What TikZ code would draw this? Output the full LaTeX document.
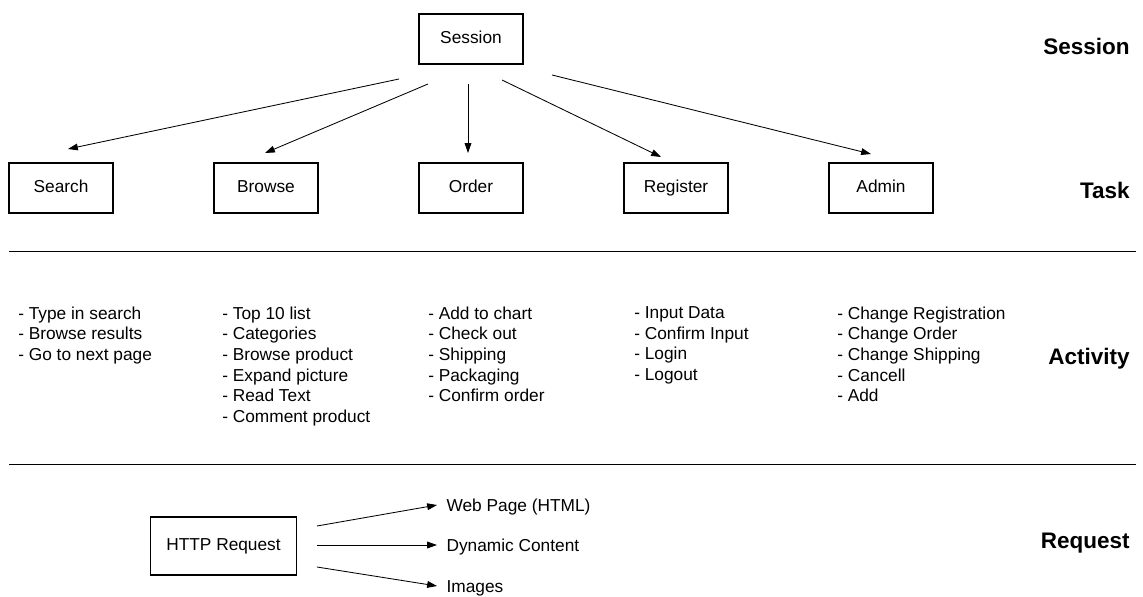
\documentclass[tikz,border=0pt]{standalone}
\usepackage{fontspec}
\setmainfont{Liberation Sans}
\usepackage{tikz}
\usetikzlibrary{arrows.meta}

\begin{document}
\begin{tikzpicture}[x=0.025cm,y=-0.025cm,
    every node/.style={font=\fontsize{12.3}{14.6}\selectfont},
    box/.style={draw,line width=1.1pt,minimum width=2.6cm,minimum height=1.25cm,
        inner sep=0pt,text height=8.8pt,text depth=1.8pt},
    level/.style={anchor=base east,inner sep=0pt,font=\fontsize{16}{19}\selectfont\bfseries},
    steps/.style={anchor=north west,align=left,inner sep=0pt},
    result/.style={anchor=west,inner xsep=6.6pt,inner ysep=0pt,text height=8.8pt,text depth=0pt},
    arr/.style={-{Triangle[length=7pt,width=4.8pt]},line width=0.6pt}]

    \useasboundingbox (0,0) rectangle (1143,597);

    % levels
    \node[level] (lsession) at (1130,54.3) {Session};
    \node[level] (ltask) at (1130,198.3) {Task};
    \node[level] (lactivity) at (1130,364.3) {Activity};
    \node[level] (lrequest) at (1130,548.3) {Request};

    \draw[line width=0.6pt] (9,251) -- (1136,251);
    \draw[line width=0.6pt] (9,464) -- (1136,464);

    % session and tasks
    \node[box] (session) at (471,39) {Session};
    \node[box] (search) at (61,188) {Search};
    \node[box] (browse) at (266,188) {Browse};
    \node[box] (order) at (471,188) {Order};
    \node[box] (register) at (676,188) {Register};
    \node[box] (admin) at (881,188) {Admin};

    \coordinate (s1) at (399,79);
    \coordinate (s2) at (428,84);
    \coordinate (s3) at (468,84);
    \coordinate (s4) at (502,80);
    \coordinate (s5) at (552,75);
    \coordinate (t1) at (68,149);
    \coordinate (t2) at (265,153);
    \coordinate (t3) at (468,153);
    \coordinate (t4) at (661,157);
    \coordinate (t5) at (871,154);
    \foreach \i in {1,...,5}
        \draw[arr] (s\i) -- (t\i);

    % activities
    \node[steps] (asearch) at (18,306.6)
        {- Type in search\\- Browse results\\- Go to next page};
    \node[steps] (abrowse) at (222,306.6)
        {- Top 10 list\\- Categories\\- Browse product\\- Expand picture\\- Read Text\\- Comment product};
    \node[steps] (aorder) at (428,306.6)
        {- Add to chart\\- Check out\\- Shipping\\- Packaging\\- Confirm order};
    \node[steps] (aregister) at (634,306.6)
        {- Input Data\\- Confirm Input\\- Login\\- Logout};
    \node[steps] (aadmin) at (837,306.6)
        {- Change Registration\\- Change Order\\- Change Shipping\\- Cancell\\- Add};

    % request
    \node[box,minimum width=3.65cm,minimum height=1.45cm] (http) at (223.5,546) {HTTP Request};
    \node[result] (html) at (437,505) {Web Page (HTML)};
    \node[result] (dynamic) at (437,545) {Dynamic Content};
    \node[result] (images) at (437,586) {Images};

    \coordinate (h1) at (317,526);
    \coordinate (h2) at (317,545);
    \coordinate (h3) at (317,567);
    \draw[arr] (h1) -- (html.west);
    \draw[arr] (h2) -- (dynamic.west);
    \draw[arr] (h3) -- (images.west);

\end{tikzpicture}
\end{document}
